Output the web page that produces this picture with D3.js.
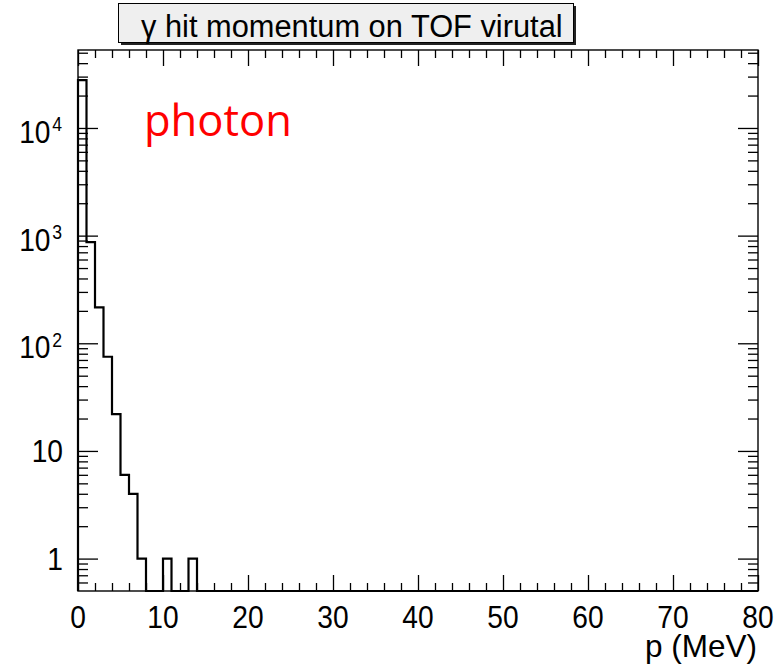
<!DOCTYPE html>
<html>
<head>
<meta charset="utf-8">
<script src="https://cdn.jsdelivr.net/npm/d3@7/dist/d3.min.js"></script>
<style>
  html, body { margin: 0; padding: 0; background: #ffffff; }
  svg { display: block; }
  .lbl { font-family: "Liberation Sans", Arial, Helvetica, sans-serif; }
  .ann { font-family: "Open Sans", "Noto Sans", sans-serif; }
</style>
</head>
<body>
<svg id="chart" width="779" height="665"></svg>
<script>
// ---------------- data ----------------
const titleText = "γ hit momentum on TOF virutal";
const xAxisTitle = "p (MeV)";
const annotation = "photon";
// bin lower edges are 0,1,2,...,79 (1 MeV bins); counts per bin
const binEdges = [0, 80];
const binCounts = [
  27800, 870, 216, 75, 22, 6, 4, 1, 0, 0,
  1, 0, 0, 1, 0, 0, 0, 0, 0, 0,
  0, 0, 0, 0, 0, 0, 0, 0, 0, 0,
  0, 0, 0, 0, 0, 0, 0, 0, 0, 0,
  0, 0, 0, 0, 0, 0, 0, 0, 0, 0,
  0, 0, 0, 0, 0, 0, 0, 0, 0, 0,
  0, 0, 0, 0, 0, 0, 0, 0, 0, 0,
  0, 0, 0, 0, 0, 0, 0, 0, 0, 0
];
const xTickLabels = [0, 10, 20, 30, 40, 50, 60, 70, 80];
const yMajorTicks = [1, 10, 100, 1000, 10000];
const yLabelExp = [0, 1, 2, 3, 4];
const yRange = [0.5, 53000];

// ---------------- layout ----------------
const X0 = 78, X1 = 758, Y0 = 50, Y1 = 591;
const svg = d3.select("#chart");

const x = d3.scaleLinear().domain(binEdges).range([X0, X1]);
const y = d3.scaleLog().domain(yRange).range([Y1, Y0]);

// minor ticks
const xMinor = d3.range(0, 81, 2).filter(v => v % 10 !== 0);
const yMinor = [];
for (let e = -1; e <= 4; e++) {
  for (let m = 2; m <= 9; m++) {
    const v = m * Math.pow(10, e);
    if (v > yRange[0] && v < yRange[1]) yMinor.push(v);
  }
}

function tickAxis(axisGen, tx, ty, size, values) {
  const g = svg.append("g")
    .attr("transform", `translate(${tx},${ty})`)
    .call(axisGen.tickValues(values).tickSize(size).tickSizeOuter(0).tickFormat(""));
  g.select(".domain").remove();
  g.selectAll(".tick line").attr("stroke", "#000").attr("stroke-width", 1.3);
  g.selectAll(".tick text").remove();
  return g;
}

// left axis ticks (pointing into the frame)
tickAxis(d3.axisRight(y), X0, 0, 20, yMajorTicks);
tickAxis(d3.axisRight(y), X0, 0, 10, yMinor);
// right axis ticks (mirrored)
tickAxis(d3.axisLeft(y), X1, 0, 20, yMajorTicks);
tickAxis(d3.axisLeft(y), X1, 0, 10, yMinor);
// bottom axis ticks
tickAxis(d3.axisTop(x), 0, Y1, 16, xTickLabels);
tickAxis(d3.axisTop(x), 0, Y1, 8, xMinor);
// top axis ticks
tickAxis(d3.axisBottom(x), 0, Y0, 16, xTickLabels);
tickAxis(d3.axisBottom(x), 0, Y0, 8, xMinor);

// histogram outline
const yFloor = yRange[0];
const pts = [[x(0), y(yFloor)]];
binCounts.forEach((c, i) => {
  const yy = y(Math.max(c, yFloor));
  pts.push([x(i), yy]);
  pts.push([x(i + 1), yy]);
});
pts.push([x(80), y(yFloor)]);
svg.append("path")
  .attr("d", d3.line()(pts))
  .attr("fill", "none")
  .attr("stroke", "#000")
  .attr("stroke-width", 2.2)
  .attr("stroke-linejoin", "miter");

// frame
svg.append("rect")
  .attr("x", X0).attr("y", Y0)
  .attr("width", X1 - X0).attr("height", Y1 - Y0)
  .attr("fill", "none").attr("stroke", "#000").attr("stroke-width", 1.4);

// x labels
const LS = 32, SX = 0.88;
xTickLabels.forEach(v => {
  svg.append("text")
    .attr("class", "lbl")
    .attr("transform", `translate(${x(v)},628) scale(${SX},1)`)
    .attr("text-anchor", "middle")
    .attr("font-size", LS)
    .attr("fill", "#000")
    .text(v);
});

// y labels
yMajorTicks.forEach((v, i) => {
  const e = yLabelExp[i];
  const ty = y(v);
  if (e <= 1) {
    svg.append("text")
      .attr("class", "lbl")
      .attr("transform", `translate(63,${ty + 11.5}) scale(${SX},1)`)
      .attr("text-anchor", "end")
      .attr("font-size", LS)
      .attr("fill", "#000")
      .text(v);
  } else {
    const t = svg.append("text")
      .attr("class", "lbl")
      .attr("transform", `translate(62,${ty + 15}) scale(${SX},1)`)
      .attr("text-anchor", "end")
      .attr("font-size", LS)
      .attr("fill", "#000");
    t.append("tspan").text("10");
    t.append("tspan").attr("font-size", 20).attr("dy", -11.5).attr("dx", 2).text(e);
  }
});

// x axis title
svg.append("text")
  .attr("class", "lbl")
  .attr("x", 757).attr("y", 657)
  .attr("text-anchor", "end")
  .attr("font-size", 31.5)
  .attr("fill", "#000")
  .text(xAxisTitle);

// title box
svg.append("rect")
  .attr("x", 121).attr("y", 6).attr("width", 455).attr("height", 39)
  .attr("fill", "#222");
svg.append("rect")
  .attr("x", 118.5).attr("y", 3.5).attr("width", 455).attr("height", 39)
  .attr("fill", "#efefef").attr("stroke", "#000").attr("stroke-width", 1);
svg.append("text")
  .attr("class", "lbl")
  .attr("x", 141).attr("y", 36.5)
  .attr("font-size", 30.8)
  .attr("fill", "#000")
  .text(titleText);

// annotation
svg.append("text")
  .attr("class", "ann")
  .attr("x", 144).attr("y", 136)
  .attr("font-size", 43.5)
  .attr("fill", "#ff0000")
  .text(annotation);
</script>
</body>
</html>
